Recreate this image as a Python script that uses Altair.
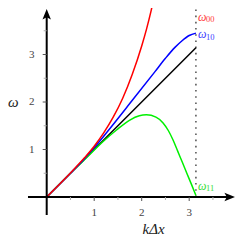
import altair as alt
import pandas as pd

# ---- curve data ----
red_x = [0, 0.5, 0.8, 1.0, 1.2, 1.4, 1.6, 1.8, 2.0, 2.1, 2.2, 2.25]
red_y = [0, 0.505, 0.83, 1.07, 1.35, 1.68, 2.08, 2.58, 3.18, 3.53, 3.93, 4.15]
blue_x = [0, 0.5, 0.77, 1.0, 1.28, 1.79, 2.28, 2.5, 2.7, 2.85, 3.0, 3.14159]
blue_y = [0, 0.5, 0.78, 1.04, 1.38, 2.02, 2.64, 2.92, 3.15, 3.29, 3.40, 3.45]
green_x = [0, 0.5, 0.77, 1.2, 1.47, 1.75, 1.95, 2.1, 2.3, 2.45, 2.56, 2.66, 2.76, 2.86, 2.95, 3.05, 3.14159]
green_y = [0, 0.5, 0.76, 1.18, 1.41, 1.62, 1.71, 1.73, 1.68, 1.56, 1.40, 1.20, 0.96, 0.72, 0.50, 0.26, 0.03]
black_x = [0, 3.14159]
black_y = [0, 3.14159]

pi_line_x = 3.14159

major_ticks = [1, 2, 3]
major_labels = ["1", "2", "3"]
minor_ticks = [0.5, 1.5, 2.5, 3.5]

curve_names = ["ω", "ω", "ω"]
curve_subs = ["00", "10", "11"]
curve_label_y = [3.8, 3.43, 0.24]
curve_label_colors = ["#ff3b3b", "#3b3bff", "#33dd33"]

# ---- scales: 47.5 px per unit, origin at (38.7, 189) in chart px ----
W, H = 228, 229
X0, Y0, U = 38.7, 189.0, 47.5
xs = alt.Scale(domain=[-X0 / U, (W - X0) / U], nice=False, zero=False)
ys = alt.Scale(domain=[(Y0 - H) / U, Y0 / U], nice=False, zero=False)


def X(f="x"):
    return alt.X(f"{f}:Q", scale=xs, axis=None)


def Y(f="y"):
    return alt.Y(f"{f}:Q", scale=ys, axis=None)


def curve(xv, yv, color):
    df = pd.DataFrame({"x": xv, "y": yv})
    return alt.Chart(df).mark_line(
        color=color, strokeWidth=1.5, interpolate="monotone", clip=True
    ).encode(x=X(), y=Y())


layers = []

# dotted line at pi
pidf = pd.DataFrame({"x": [pi_line_x], "y": [0.0], "y2": [Y0 / U]})
layers.append(
    alt.Chart(pidf).mark_rule(color="#333333", strokeWidth=1.3, strokeDash=[1.6, 4.6]).encode(
        x=X(), y=Y(), y2="y2:Q"
    )
)

layers.append(curve(black_x, black_y, "#000000"))
layers.append(curve(green_x, green_y, "#00f000"))
layers.append(curve(blue_x, blue_y, "#0000ff"))
layers.append(curve(red_x, red_y, "#ff0000"))

# axes lines
x_arrow_c = (W - 1 - 5.3 - X0) / U
y_arrow_c = (Y0 - 6.3) / U
axdf = pd.DataFrame({"x": [-0.394], "x2": [x_arrow_c], "y": [0.0]})
layers.append(
    alt.Chart(axdf).mark_rule(color="black", strokeWidth=2).encode(x=X(), x2="x2:Q", y=Y())
)
aydf = pd.DataFrame({"x": [0.0], "y": [-0.379], "y2": [y_arrow_c]})
layers.append(
    alt.Chart(aydf).mark_rule(color="black", strokeWidth=2).encode(x=X(), y=Y(), y2="y2:Q")
)
# arrowheads
ahx = pd.DataFrame({"x": [x_arrow_c], "y": [0.0]})
layers.append(
    alt.Chart(ahx).mark_point(
        shape="M1,0 L-1,-0.8 L-0.55,0 L-1,0.8 Z", size=112, filled=True, color="black", opacity=1
    ).encode(x=X(), y=Y())
)
ahy = pd.DataFrame({"x": [0.0], "y": [y_arrow_c]})
layers.append(
    alt.Chart(ahy).mark_point(
        shape="M0,-1 L-0.8,1 L0,0.55 L0.8,1 Z", size=112, filled=True, color="black", opacity=1
    ).encode(x=X(), y=Y())
)

# ticks
tk = 4.0 / U
tm = 3.0 / U
mxdf = pd.DataFrame({"x": major_ticks, "y": [0.0] * 3, "y2": [-tk] * 3})
layers.append(alt.Chart(mxdf).mark_rule(color="#555555", strokeWidth=1).encode(x=X(), y=Y(), y2="y2:Q"))
mndf = pd.DataFrame({"x": minor_ticks, "y": [0.0] * 4, "y2": [-tm] * 4})
layers.append(alt.Chart(mndf).mark_rule(color="#aaaaaa", strokeWidth=1).encode(x=X(), y=Y(), y2="y2:Q"))
mydf = pd.DataFrame({"y": major_ticks, "x": [0.0] * 3, "x2": [-tk] * 3})
layers.append(alt.Chart(mydf).mark_rule(color="#555555", strokeWidth=1).encode(x=X(), x2="x2:Q", y=Y()))
mnydf = pd.DataFrame({"y": minor_ticks, "x": [0.0] * 4, "x2": [-tm] * 4})
layers.append(alt.Chart(mnydf).mark_rule(color="#aaaaaa", strokeWidth=1).encode(x=X(), x2="x2:Q", y=Y()))

# tick labels
xl = pd.DataFrame({"x": major_ticks, "y": [-16.0 / U] * 3, "t": major_labels})
layers.append(
    alt.Chart(xl).mark_text(font="Liberation Serif", fontSize=11, color="#444444", baseline="middle").encode(
        x=X(), y=Y(), text="t:N"
    )
)
yl = pd.DataFrame({"y": major_ticks, "x": [-15.0 / U] * 3, "t": major_labels})
layers.append(
    alt.Chart(yl).mark_text(font="Liberation Serif", fontSize=11, color="#444444", baseline="middle").encode(
        x=X(), y=Y(), text="t:N"
    )
)

# axis titles
ttl = pd.DataFrame({"x": [-X0 / U, 2.25], "y": [2.0, (Y0 - 221.0) / U], "t": ["ω", "kΔx"]})
layers.append(
    alt.Chart(ttl.iloc[[0]]).mark_text(
        font="Liberation Serif", fontSize=15, fontStyle="italic", color="#222222", align="left", baseline="middle"
    ).encode(x=X(), y=Y(), text="t:N")
)
layers.append(
    alt.Chart(ttl.iloc[[1]]).mark_text(
        font="Liberation Serif", fontSize=15, fontStyle="italic", color="#222222", align="center", baseline="middle"
    ).encode(x=X(), y=Y(), text="t:N")
)

# curve labels
cl = pd.DataFrame(
    {
        "x": [3.185] * 3,
        "y": curve_label_y,
        "t": curve_names,
        "s": curve_subs,
        "c": curve_label_colors,
    }
)
layers.append(
    alt.Chart(cl).mark_text(
        font="Liberation Serif", fontSize=12, fontStyle="italic", align="left", baseline="middle"
    ).encode(x=X(), y=Y(), text="t:N", color=alt.Color("c:N", scale=None))
)
layers.append(
    alt.Chart(cl).mark_text(
        font="Liberation Serif", fontSize=8.5, align="left", baseline="middle", dx=8, dy=2.5
    ).encode(x=X(), y=Y(), text="s:N", color=alt.Color("c:N", scale=None))
)

chart = (
    alt.layer(*layers)
    .properties(width=W, height=H, autosize=alt.AutoSizeParams(type="none"), padding=0, background="white")
    .configure_view(stroke=None)
)

chart.save("out.html", embed_options={"renderer": "svg", "actions": False})
